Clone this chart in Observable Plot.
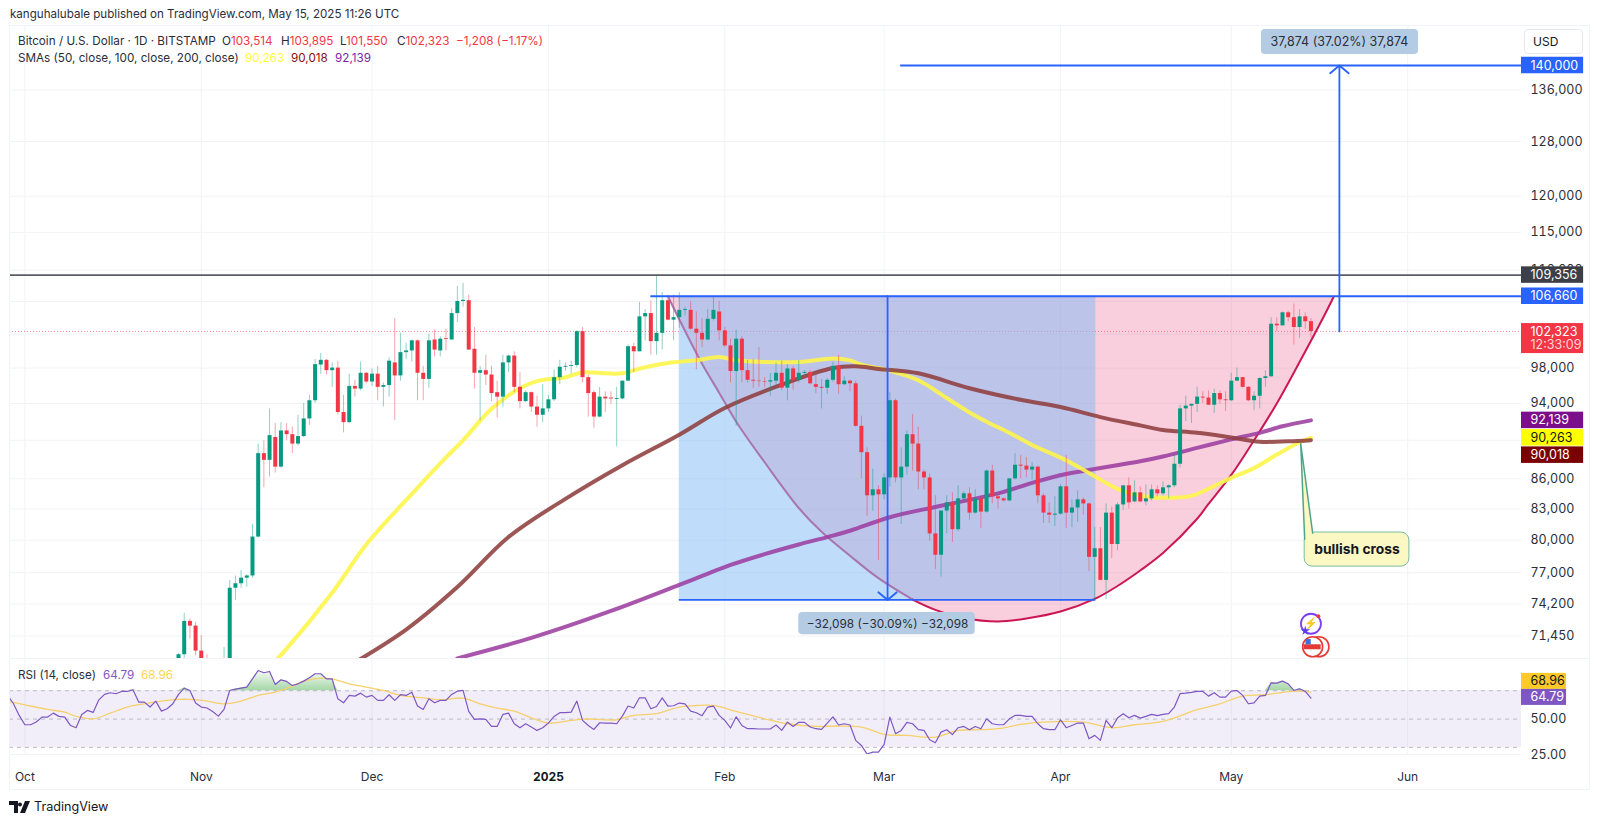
<!DOCTYPE html>
<html>
<head>
<meta charset="utf-8">
<script src="https://cdn.jsdelivr.net/npm/d3@7"></script>
<script src="https://cdn.jsdelivr.net/npm/@observablehq/plot@0.6"></script>
<style>
  html, body { margin: 0; background: #fff; overflow: hidden; }
  body { width: 1600px; height: 824px; position: relative; font-family: Inter, Roboto, sans-serif; color: #131722; }
  .abs { position: absolute; white-space: nowrap; }
  .top { left: 10px; top: 7px; font-size: 11.6px; color: #2a2e39; }
  .leg { font-size: 11.7px; color: #2a2e39; }
  .red { color: #f23645; }
  #frame { left: 9px; top: 25px; width: 1581px; height: 765px; border: 1px solid #f0f3fa; box-sizing: border-box; pointer-events: none; }
  #split { left: 9px; top: 658px; width: 1581px; height: 1px; background: #f0f3fa; }
  #usd { left: 1524px; top: 29px; width: 59px; height: 25px; border: 1px solid #e7e9f0; border-radius: 4px; box-sizing: border-box; font-size: 12px; line-height: 24px; padding-left: 8px; background: #fff; }
  #main { position: absolute; left: 0; top: 25px; }
  #rsi { position: absolute; left: 0; top: 658px; }
  #logo { left: 9px; top: 799px; display: flex; align-items: center; font-size: 12.6px; color: #131722; }
</style>
</head>
<body>
<div id="main"></div>
<div id="rsi"></div>
<div id="frame" class="abs"></div>
<div id="split" class="abs"></div>
<div class="abs top">kanguhalubale published on TradingView.com, May 15, 2025 11:26 UTC</div>
<div class="abs leg" style="left:18px;top:34px">Bitcoin / U.S. Dollar · 1D · BITSTAMP</div>
<div class="abs leg" style="left:222px;top:34px">O<span class="red">103,514</span></div>
<div class="abs leg" style="left:281px;top:34px">H<span class="red">103,895</span></div>
<div class="abs leg" style="left:340px;top:34px">L<span class="red">101,550</span></div>
<div class="abs leg" style="left:397px;top:34px">C<span class="red">102,323</span></div>
<div class="abs leg red" style="left:456px;top:34px">−1,208 (−1.17%)</div>
<div class="abs leg" style="left:18px;top:51px">SMAs (50, close, 100, close, 200, close)</div>
<div class="abs leg" style="left:245px;top:51px;color:#ffff3b">90,263</div>
<div class="abs leg" style="left:291px;top:51px;color:#880e0e">90,018</div>
<div class="abs leg" style="left:335px;top:51px;color:#7b1fa2">92,139</div>
<div class="abs leg" style="left:18px;top:668px">RSI (14, close)</div>
<div class="abs leg" style="left:103px;top:668px;color:#7e57c2">64.79</div>
<div class="abs leg" style="left:141px;top:668px;color:#ffd54f">68.96</div>
<div id="usd" class="abs">USD</div>
<div id="logo" class="abs">
  <svg width="21" height="12" viewBox="0 0 21 12" style="margin-right:4px"><path d="M0 0h9v12H5V4H0zM11 1.5a2 2 0 1 1 0 4 2 2 0 0 1 0-4zM16 0h5l-5 12h-5z" fill="#131722"/></svg>TradingView
</div>
<script>
// candles, thousands of USD, one per day from 28 Oct 2024 to 15 May 2025
const opens = [
  68.0,69.9,72.7,72.3,
  70.2,69.4,69.3,68.7,67.8,69.4,75.6,76.0,76.5,76.7,80.3,88.6,87.9,90.3,87.2,91.0,90.6,89.6,90.4,92.3,94.3,98.35,98.9,97.7,98.0,93.0,91.9,95.9,95.6,97.4,
  96.4,97.3,95.8,96.0,98.6,97.1,99.8,100.0,101.2,97.4,96.7,101.3,100.0,101.45,101.3,104.5,106.0,106.1,100.2,97.4,97.7,97.2,95.2,94.7,98.6,99.4,95.8,94.2,95.2,93.6,92.7,
  93.4,94.4,96.9,98.1,98.2,98.3,102.3,96.9,95.2,92.5,94.7,94.6,94.45,94.5,96.5,100.5,99.9,104.1,104.5,101.1,102.1,106.1,103.7,104.0,104.9,104.9,102.6,102.1,101.3,103.8,104.7,
  102.4,100.6,97.6,101.4,97.7,96.6,96.5,96.45,96.4,96.5,97.4,95.7,97.9,96.6,97.4,97.5,96.1,95.8,95.7,96.6,98.2,96.1,96.5,96.2,91.5,88.7,84.3,84.9,
  84.4,86.1,94.3,86.1,87.2,90.6,89.6,86.7,86.1,80.6,78.6,82.8,83.6,81.0,84.0,84.5,82.6,84.0,82.7,86.8,84.2,84.0,83.8,86.0,87.4,87.3,86.9,87.2,84.3,82.6,82.4,
  82.5,85.2,82.6,83.1,83.9,83.5,78.4,79.2,76.3,82.6,79.6,83.4,85.3,83.7,84.6,83.7,84.0,84.9,84.5,85.1,85.3,87.5,93.4,93.7,93.9,94.7,94.6,93.8,95.1,94.4,
  94.3,96.5,96.9,95.8,94.3,94.8,96.8,97.0,103.2,103.0,104.6,104.0,102.8,104.1,103.514
];
const highs = [
  70.0,73.4,72.9,72.6,
  71.5,69.9,69.4,69.4,70.5,76.3,76.7,77.2,76.8,81.5,89.6,89.95,93.4,91.8,91.9,91.8,91.4,92.7,94.0,94.9,99.0,99.7,99.0,98.6,98.8,94.9,97.3,96.6,98.7,97.5,
  97.9,98.2,96.3,99.2,103.9,102.1,100.9,101.3,101.3,98.2,102.0,102.5,101.7,102.6,105.1,107.9,108.3,106.8,102.8,98.2,99.5,98.2,96.5,99.5,99.5,99.9,97.5,95.4,95.3,94.8,96.1,
  94.9,97.8,98.9,98.6,98.8,102.4,102.8,97.2,95.4,95.8,95.3,95.3,95.8,96.5,100.7,100.9,105.9,105.0,106.1,109.4,107.1,106.3,106.8,107.1,105.3,106.0,104.7,103.9,105.0,106.6,106.0,
  102.8,101.4,102.5,101.7,98.9,99.0,100.4,96.9,97.4,98.6,98.8,98.4,98.2,98.9,97.7,97.7,97.4,96.7,96.8,98.7,99.5,97.0,96.6,96.5,92.6,89.2,87.0,85.3,
  86.5,95.2,94.5,89.2,91.0,92.8,91.4,86.9,86.5,84.3,82.8,84.3,84.6,85.3,84.7,85.1,84.9,84.3,86.9,87.4,84.4,84.1,86.0,88.6,88.4,88.2,87.7,87.3,84.5,83.6,84.2,
  85.4,88.4,83.9,84.8,84.1,83.6,81.2,81.2,83.5,83.2,83.6,85.3,86.1,85.8,85.2,85.4,85.4,85.3,85.7,85.4,88.5,93.8,94.8,93.9,95.8,95.3,95.4,95.6,95.4,95.3,
  97.4,98.0,96.95,95.9,95.3,96.9,97.7,104.0,104.0,104.7,104.8,105.7,105.0,104.6,103.895
];
const lows = [
  67.6,69.5,71.2,69.8,
  68.8,68.9,67.5,66.8,67.5,69.1,74.5,75.6,75.7,76.5,80.2,85.1,86.2,86.6,87.1,90.0,88.6,89.4,90.3,91.6,94.0,97.3,97.2,95.8,92.7,90.8,91.8,94.7,95.4,96.2,
  95.9,94.3,93.6,94.7,92.1,96.5,99.0,98.7,94.3,94.3,95.7,99.3,99.3,100.0,101.3,103.4,105.3,100.1,95.6,92.1,96.0,94.2,92.4,93.6,97.5,95.2,93.4,94.1,93.0,91.4,91.9,
  93.0,94.2,96.1,97.6,97.3,98.0,96.3,92.5,91.3,92.4,93.0,93.9,89.3,94.4,96.5,97.5,99.9,101.2,99.5,99.5,100.1,103.6,101.2,102.7,104.2,102.5,97.8,100.4,101.2,103.6,101.2,
  100.4,96.3,91.5,96.3,96.3,95.7,95.8,95.8,94.8,96.0,95.4,94.3,95.5,96.3,97.2,96.1,95.1,93.4,95.0,96.4,95.0,96.0,95.3,91.4,86.0,82.3,82.8,78.1,
  83.9,85.2,85.6,81.5,86.4,86.8,84.9,84.9,79.9,77.3,76.6,80.6,79.8,80.8,83.7,81.9,82.5,81.1,82.6,83.5,83.0,83.7,83.7,85.9,86.0,86.1,85.9,83.5,81.6,81.6,81.3,
  82.4,81.1,81.2,81.7,82.4,77.1,74.6,76.3,74.6,78.3,79.0,82.9,83.0,83.6,83.6,83.3,83.8,84.2,84.3,84.0,85.1,87.1,92.0,91.8,93.0,94.0,93.8,92.9,93.9,93.1,
  94.2,96.5,95.7,94.2,93.2,93.4,95.8,96.9,102.3,103.0,103.5,100.7,101.5,102.6,101.55
];
const closes = [
  69.9,72.7,72.3,70.2,
  69.4,69.3,68.7,67.8,69.4,75.6,76.0,76.5,76.7,80.3,88.6,87.9,90.5,87.2,91.0,90.6,89.6,90.4,92.3,94.3,98.4,98.9,97.7,98.0,93.0,91.9,95.9,95.6,97.4,96.4,
  97.3,95.8,96.0,98.8,97.1,99.8,100.0,101.2,97.4,96.7,101.2,100.1,101.4,101.35,104.5,106.0,106.15,100.1,97.4,97.7,97.2,95.1,94.7,98.6,99.4,95.8,94.2,95.2,93.6,92.7,93.4,
  94.4,96.9,98.1,98.2,98.3,102.3,96.9,95.1,92.5,94.7,94.5,94.5,94.55,96.5,100.5,99.9,104.1,104.5,101.1,102.1,106.1,103.7,104.0,104.9,105.0,102.6,102.1,101.3,103.8,104.9,102.4,
  100.6,97.6,101.4,97.7,96.6,96.5,96.45,96.4,96.55,97.4,95.7,97.9,96.6,97.4,97.5,96.2,95.8,95.7,96.6,98.2,96.1,96.5,96.2,91.5,88.7,84.3,84.9,84.4,
  86.1,94.3,86.1,87.2,90.6,89.6,86.7,86.1,80.6,78.6,82.8,83.6,81.0,84.0,84.5,82.6,84.0,82.7,86.8,84.2,84.0,83.8,86.0,87.4,87.3,86.9,87.2,84.3,82.6,82.4,82.5,
  85.2,82.6,83.1,83.9,83.5,78.4,79.2,76.3,82.6,79.6,83.4,85.3,83.6,84.6,83.7,84.0,84.9,84.5,85.1,85.3,87.5,93.4,93.7,93.9,94.7,94.6,93.8,95.1,94.4,94.3,
  96.5,96.9,95.8,94.3,94.8,96.8,97.0,103.2,103.0,104.6,104.0,102.8,104.1,103.5,102.323
];

// moving averages: days after 1 Oct 2024, thousands of USD
const sma50Days = [43,46,54,60,69,74,77,82,87,90,95,98,102,105,109,113,118,122,125,130,136,142,145,147,152,157,162,166,169,173,177,183,187,192,196,200,205,208,212,216,220,224,226];
const sma50 = [68.9,70.4,75.2,79.6,85.1,88.2,90.0,93.4,95.7,96.5,96.95,97.5,97.4,97.4,98.1,98.6,98.9,99.3,98.9,98.7,98.7,99.1,98.9,98.4,97.7,96.6,94.6,93.0,92.0,90.8,89.5,87.9,86.6,85.0,84.3,84.1,84.3,85.0,86.1,87.1,88.5,89.8,90.263];
const sma100Days = [57,67,76,85,95,105,115,123,133,142,146,150,157,166,175,182,189,196,200,206,212,217,222,226];
const sma100 = [69.0,72.0,75.7,80.3,84.0,87.4,90.6,93.5,96.1,98.0,98.2,97.9,97.4,95.7,94.4,93.6,92.5,91.6,91.1,90.8,90.3,89.85,89.9,90.018];
const sma200Days = [76,89,103,115,119,124,130,136,141,145,152,160,166,172,177,183,188,196,200,206,212,217,221,226];
const sma200 = [69.6,71.3,73.6,75.9,76.7,77.7,78.7,79.6,80.3,80.9,82.2,83.2,83.9,84.7,85.6,86.5,87.0,87.8,88.3,89.2,90.1,90.8,91.5,92.139];

// cup arc: days after 1 Oct 2024, thousands of USD
const arcDays = [113,116,119,122,125,130,136,140,145,150,156,160,165,171,176,182,188,192,196,200,206,208,212,216,220,224,228,230];
const arcPrices = [106.66,102.4,98.5,95.2,92.0,87.7,83.1,80.8,78.55,76.5,74.6,73.7,73.0,72.7,72.95,73.55,74.65,75.8,77.2,78.8,82.05,83.5,86.4,90.0,94.0,98.7,103.8,106.6];

// RSI, one per day from 28 Sep 2024 to 15 May 2025
const rsiValues = [
  66.7,60.8,52.6,
  46,46,47.9,51.4,51.4,54.2,51.9,51.4,45.5,43.9,53.3,56.1,54.7,63.6,67.4,68.6,67.9,69.5,69.5,70.7,62,62,58.5,62.7,55.6,57.3,60.8,67.4,71.9,70.2,61.3,
  58.5,57.8,55.4,52.1,56.8,70.2,71.2,71.9,72.6,78.4,84.3,82.7,83.6,74.4,77.7,76.6,73.7,74.9,76.8,79.1,82,82,78.4,78.4,64.3,61.5,66.7,66.2,68.3,65.5,
  66.7,63.2,63.2,67.2,63.2,67.2,66.7,69,59.2,56.8,64.3,61.5,63.2,63.2,67.4,69.7,70.2,55.4,49.8,50.2,49.8,44.8,44.8,53.3,54.2,46.7,43.9,46.7,44.4,42,43.9,
  47.2,51.9,54.5,54.5,54.9,62.7,49.1,45.5,42.7,47.4,47.2,47.2,46.7,52.1,59.2,57.8,65,65,57.3,58.9,65,59.2,59.4,61.3,60.8,55.6,54.5,52.4,58.5,59.2,52.6,
  49.1,43.7,51.6,45.5,43.2,43.2,43,43,43,45.8,42,47.9,44.8,47.7,47.7,44.4,43.2,42.7,47.2,51.6,45.8,46.7,45.8,35,31.4,25.3,26.7,26.7,
  32.1,51.4,39.7,42,47.7,46.7,42.5,42,35.4,33.3,40.8,42.5,39,43.9,44.8,42.5,44.8,43.2,50.2,46.7,46,46,50.2,52.6,52.6,51.9,51.9,46.7,43.2,42.5,42.5,
  49.5,43.9,45.5,47.2,47.2,36.1,38.5,35,49.1,43.9,50.7,53.8,50.9,52.6,50.7,51.9,53.3,52.4,53.3,53.8,58.5,67.9,68.3,68.8,69.5,69.5,66.2,68.6,65.5,65.5,
  69.7,70.2,66.7,60.8,61.5,66.2,66.7,75.6,75.4,76.8,74.9,70.2,71.4,69.5,64.79
];
const rsiMaDays = [-3,0,4,7,9,12,15,18,21,24,27,29,32,35,38,41,44,47,49,52,54,57,60,63,66,70,73,77,80,83,86,89,92,95,98,102,104,107,111,115,118,121,125,130,134,139,143,147,151,155,160,164,168,171,175,179,186,191,195,200,206,210,214,218,223,226];
const rsiMa = [62.5,60.1,56.8,54.9,51.9,50.2,54.2,58.5,60.8,62.7,63.9,63.9,62.7,60.8,62.7,66.7,69,73.3,76.8,78.9,78.4,74.9,72.6,70.2,66.7,65,63.6,64.8,60.8,57.8,55.6,50.9,47.2,48.4,50,49.5,49.5,52.6,53.8,58.5,59.6,59.6,55.4,50.2,46.7,44.8,45.1,44.4,39.2,38.5,37.3,42,42.5,43.2,46.2,47.9,47.9,43.9,46,48.4,56.6,60.8,66.2,67.2,69.7,68.96];

// axis labels; some grid levels sit behind the price tags and show no label
const priceTicks = [136000,128000,120000,115000,110000,98000,94000,86000,83000,80000,77000,74200,71450];
const hiddenTicks = [106000,102000,90000];
const rsiTicks = [50,25];
const monthTicks = ["2024-10-01","2024-11-01","2024-12-01","2025-02-01","2025-03-01","2025-04-01","2025-05-01","2025-06-01"].map(d => new Date(d));
const yearTicks = [new Date("2025-01-01")];

// price tags on the right: label, level of the tag, tag colour, text colour
const tagLabels = ["140,000","109,356","106,660","92,139","90,263","90,018"];
const tagLevels = [140000,109356,106660,92139,90263,88440];
const tagFills = ["#2962ff","#3c3f47","#2962ff","#7b0e8a","#ffff00","#7b0000"];
const tagInks = ["#fff","#fff","#fff","#fff","#131722","#fff"];

// drawing levels
const oct1 = Date.UTC(2024, 9, 1);
const day = d => new Date(oct1 + d * 864e5);
const T = s => new Date(s + "Z");
const axisEdge = T("2025-06-21T00:00");
const tagEdge = T("2025-07-01T22:00");
const xDomain = [T("2024-09-28T07:12"), axisEdge];

const candles = d3.utcDay.range(Date.UTC(2024, 9, 28), Date.UTC(2025, 4, 16)).map((date, i) => ({
  date, o: opens[i] * 1000, h: highs[i] * 1000, l: lows[i] * 1000, c: closes[i] * 1000,
  up: closes[i] >= opens[i]
}));
const series = (days, vals) => days.map((d, i) => ({ date: day(d), v: vals[i] * 1000 }));
const arc = series(arcDays, arcPrices);
const green = "#089981", red = "#f23645", blue = "#2962ff";
const smooth = "catmull-rom";
const band = (level, h) => ({ y1: level * Math.exp(-h / 2 / 848), y2: level * Math.exp(h / 2 / 848) });

const tags = tagLabels.map((label, i) => ({ label, level: tagLevels[i], fill: tagFills[i], ink: tagInks[i], x1: axisEdge, x2: tagEdge, ...band(tagLevels[i], 16.5) }));
const lastTag = { x1: axisEdge, x2: tagEdge, ...band(101470, 30) };

const chart = Plot.plot({
  width: 1600,
  height: 633,
  marginLeft: 9,
  marginRight: 79,
  marginTop: 0,
  marginBottom: 0,
  style: { background: "transparent", fontFamily: "Inter, sans-serif", fontSize: "12.5px", color: "#131722", overflow: "visible" },
  x: { type: "utc", domain: xDomain, axis: null },
  y: { type: "log", domain: [69590, 146760], range: [633, 0], axis: null },
  marks: [
    Plot.ruleY(priceTicks.concat(hiddenTicks), { stroke: "#f2f3f7" }),
    Plot.ruleX(monthTicks.concat(yearTicks), { stroke: "#f2f3f7" }),
    Plot.ruleY([102323], { stroke: red, strokeWidth: 0.8, strokeDasharray: "1,2", strokeOpacity: 0.7 }),

    // cup and position box
    Plot.areaY(arc, { x: "date", y1: () => 106660, y2: "v", fill: "#e73f77", fillOpacity: 0.25, curve: smooth }),
    Plot.rect([{ x1: day(115), x2: day(188.2), y1: 74562, y2: 106660 }], { x1: "x1", x2: "x2", y1: "y1", y2: "y2", fill: "#7fb9f7", fillOpacity: 0.5 }),
    Plot.line(arc.slice(0, 11), { x: "date", y: "v", stroke: "#a876ad", strokeWidth: 2, curve: smooth }),
    Plot.line(arc.slice(10), { x: "date", y: "v", stroke: "#cc1652", strokeWidth: 2, curve: smooth }),

    // moving averages
    Plot.line(series(sma200Days, sma200), { x: "date", y: "v", stroke: "#9c3fa0", strokeWidth: 4, strokeOpacity: 0.88, curve: smooth, clip: "frame" }),
    Plot.line(series(sma50Days, sma50), { x: "date", y: "v", stroke: "#fdf54a", strokeWidth: 4, strokeOpacity: 0.9, curve: smooth, clip: "frame" }),
    Plot.line(series(sma100Days, sma100), { x: "date", y: "v", stroke: "#8f3f3f", strokeWidth: 4, strokeOpacity: 0.88, curve: smooth, clip: "frame" }),

    // candles
    Plot.ruleX(candles, { x: "date", y1: "l", y2: "h", stroke: d => d.up ? green : red, strokeOpacity: 0.45, strokeWidth: 1, clip: "frame" }),
    Plot.ruleX(candles, { x: "date", y1: "o", y2: "c", stroke: d => d.up ? green : red, strokeWidth: 4, clip: "frame" }),

    // levels and measures
    Plot.ruleY([109356], { stroke: "#5a5d66", strokeWidth: 1.8 }),
    Plot.ruleY([106660], { x1: T("2025-01-19T00:00"), x2: axisEdge, stroke: blue, strokeWidth: 1.8 }),
    Plot.ruleY([74562], { x1: day(115), x2: day(188.2), stroke: blue, strokeWidth: 1.8 }),
    Plot.ruleY([140000], { x1: day(153.9), x2: axisEdge, stroke: blue, strokeWidth: 1.8 }),
    Plot.arrow([{ x1: day(151.6), y1: 106660, x2: day(151.6), y2: 74562 }], { x1: "x1", y1: "y1", x2: "x2", y2: "y2", stroke: blue, strokeWidth: 1.8, headLength: 10, headAngle: 100 }),
    Plot.arrow([{ x1: day(231), y1: 102323, x2: day(231), y2: 140000 }], { x1: "x1", y1: "y1", x2: "x2", y2: "y2", stroke: blue, strokeWidth: 1.8, headLength: 10, headAngle: 100 }),

    // measure labels
    Plot.rect([{ x1: day(217.3), x2: day(244.9), y1: 141830, y2: 146070 }], { x1: "x1", x2: "x2", y1: "y1", y2: "y2", fill: "#b4cbe4", rx: 4 }),
    Plot.text(["37,874 (37.02%) 37,874"], { x: day(231), y: 143930, text: d => d, fill: "#2a2e39", fontSize: 12.5 }),
    Plot.rect([{ x1: day(136), x2: day(167), y1: 71570, y2: 73460 }], { x1: "x1", x2: "x2", y1: "y1", y2: "y2", fill: "#b4cbe4", rx: 4 }),
    Plot.text(["−32,098 (−30.09%) −32,098"], { x: day(151.6), y: 72500, text: d => d, fill: "#2a2e39", fontSize: 11.8 }),

    // callout
    Plot.rect([{ x1: day(224.9), x2: day(243.3), y1: 77550, y2: 80730 }], { x1: "x1", x2: "x2", y1: "y1", y2: "y2", fill: "#fbf8c4", stroke: "#79bd9f", rx: 8 }),
    Plot.line([
      { date: day(224.9), v: 80100 },
      { date: day(224.2), v: 89650 },
      { date: day(226.3), v: 80680 }
    ], { x: "date", y: "v", stroke: "#4fa58c", fill: "#fbf8c4" }),
    Plot.text(["bullish cross"], { x: day(234.1), y: 79100, text: d => d, fontWeight: 700, fontSize: 13.8, fill: "#131722" }),

    // event icons
    Plot.dot([{ date: day(226), v: 72500 }], { x: "date", y: "v", r: 10, stroke: "#7b3ff2", strokeWidth: 1.8, fill: "#fff" }),
    Plot.text(["⚡"], { x: day(226), y: 72500, text: d => d, fill: "#7b3ff2", fontSize: 11 }),
    Plot.dot([{ date: day(225), v: 71900 }], { x: "date", y: "v", r: 3, symbol: "star", fill: "#5b3ff2" }),
    Plot.dot([{ date: day(227.3), v: 73150 }], { x: "date", y: "v", r: 2, fill: "#f23645" }),
    Plot.dot([{ date: day(227.4), v: 70560 }], { x: "date", y: "v", r: 10, stroke: "#e53935", strokeWidth: 1.6, fill: "#fff" }),
    Plot.dot([{ date: day(226.3), v: 70560 }], { x: "date", y: "v", r: 10, stroke: "#e53935", strokeWidth: 1.6, fill: "#fff" }),
    Plot.ruleY([70560], { x1: day(224.8), x2: day(227.8), stroke: "#e53935", strokeWidth: 5 }),
    Plot.dot([{ date: day(225.5), v: 70980 }], { x: "date", y: "v", r: 3, symbol: "square", fill: "#3f6fd8" }),

    // price scale
    Plot.axisY(priceTicks, { anchor: "right", tickSize: 0, tickPadding: 9, tickFormat: d3.format(","), label: null, fontSize: 12.5, fill: "#2a2e39" }),
    Plot.rect(tags, { x1: "x1", x2: "x2", y1: "y1", y2: "y2", fill: "fill" }),
    Plot.text(tags, { x: "x1", y: "level", text: "label", fill: "ink", textAnchor: "start", dx: 9, fontSize: 12.5 }),
    Plot.rect([lastTag], { x1: "x1", x2: "x2", y1: "y1", y2: "y2", fill: red }),
    Plot.text(["102,323"], { x: axisEdge, y: 102300, text: d => d, fill: "#fff", textAnchor: "start", dx: 9, fontSize: 12.5 }),
    Plot.text(["12:33:09"], { x: axisEdge, y: 100700, text: d => d, fill: "#ffd3d7", textAnchor: "start", dx: 9, fontSize: 12.5 })
  ]
});
d3.select("#main").append(() => chart);

const rsiData = rsiValues.map((v, i) => ({ date: day(i - 3), v }));
const rsiTagLabels = ["68.96","64.79"];
const rsiTagLevels = [76.6,65.3];
const rsiTagFills = ["#ffc928","#7e57c2"];
const rsiTagInks = ["#131722","#fff"];
const rsiTagEdge = T("2025-06-28T22:00");
const rsiTags = rsiTagLabels.map((label, i) => ({ label, level: rsiTagLevels[i], fill: rsiTagFills[i], ink: rsiTagInks[i], x1: axisEdge, x2: rsiTagEdge, y1: rsiTagLevels[i] - 5.65, y2: rsiTagLevels[i] + 5.65 }));

const overbought = () => {
  const defs = d3.create("svg:defs");
  const grad = defs.append("linearGradient").attr("id", "overbought").attr("x1", 0).attr("y1", 0).attr("x2", 0).attr("y2", 1);
  grad.append("stop").attr("offset", "0%").attr("stop-color", "#4caf50").attr("stop-opacity", 0.04);
  grad.append("stop").attr("offset", "100%").attr("stop-color", "#4caf50").attr("stop-opacity", 0.5);
  return defs.node();
};

const rsiChart = Plot.plot({
  width: 1600,
  height: 132,
  marginLeft: 9,
  marginRight: 79,
  marginTop: 0,
  marginBottom: 36,
  style: { background: "transparent", fontFamily: "Inter, sans-serif", fontSize: "12.5px", color: "#131722", overflow: "visible" },
  x: { type: "utc", domain: xDomain, axis: null },
  y: { domain: [25, 92.76], range: [96, 0], axis: null },
  marks: [
    overbought,
    Plot.ruleX(monthTicks.concat(yearTicks), { stroke: "#f2f3f7" }),
    Plot.ruleY([25], { stroke: "#f0f3fa" }),
    Plot.rect([{ x1: xDomain[0], x2: axisEdge, y1: 30, y2: 70 }], { x1: "x1", x2: "x2", y1: "y1", y2: "y2", fill: "#7e57c2", fillOpacity: 0.1 }),
    Plot.ruleY([70, 50, 30], { stroke: "#9598a1", strokeDasharray: "4,4", strokeWidth: 1, strokeOpacity: 0.6 }),
    Plot.areaY(rsiData, { x: "date", y1: () => 70, y2: d => Math.max(d.v, 70), fill: "url(#overbought)" }),
    Plot.line(rsiMaDays.map((d, i) => ({ date: day(d), v: rsiMa[i] })), { x: "date", y: "v", stroke: "#f5d06b", strokeWidth: 1.3, curve: smooth, clip: "frame" }),
    Plot.line(rsiData, { x: "date", y: "v", stroke: "#7e57c2", strokeWidth: 1.2, clip: "frame" }),
    Plot.axisY(rsiTicks, { anchor: "right", tickSize: 0, tickPadding: 9, tickFormat: d3.format(".2f"), label: null, fontSize: 12.5, fill: "#2a2e39" }),
    Plot.rect(rsiTags, { x1: "x1", x2: "x2", y1: "y1", y2: "y2", fill: "fill" }),
    Plot.text(rsiTags, { x: "x1", y: "level", text: "label", fill: "ink", textAnchor: "start", dx: 9, fontSize: 12.5 }),
    Plot.axisX(monthTicks, { anchor: "bottom", tickSize: 0, tickPadding: 18, tickFormat: d3.utcFormat("%b"), label: null, fontSize: 12, fill: "#2a2e39" }),
    Plot.axisX(yearTicks, { anchor: "bottom", tickSize: 0, tickPadding: 18, tickFormat: d3.utcFormat("%Y"), label: null, fontSize: 12, fontWeight: 700, fill: "#131722" })
  ]
});
d3.select("#rsi").append(() => rsiChart);
</script>
</body>
</html>
